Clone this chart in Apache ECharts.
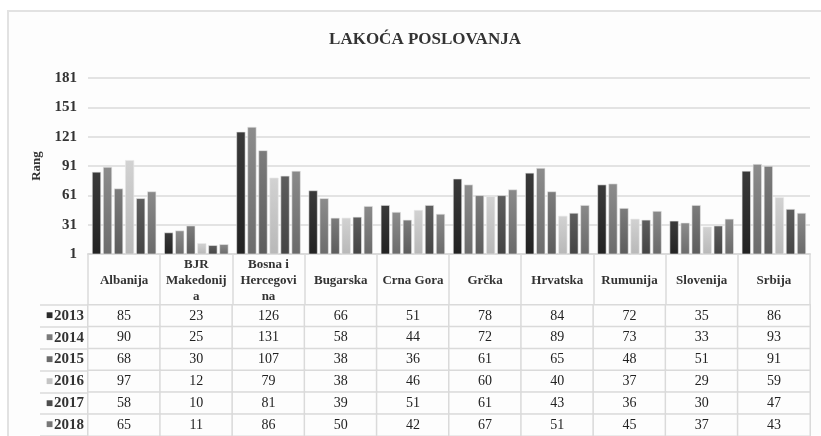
<!DOCTYPE html>
<html>
<head>
<meta charset="utf-8">
<script src="https://cdn.jsdelivr.net/npm/echarts@6/dist/echarts.min.js"></script>
<style>
html, body { margin: 0; padding: 0; background: #fff; }
#chart { width: 821px; height: 436px; }
</style>
</head>
<body>
<div id="chart"></div>
<script>
// podaci
const countries = ['Albanija', 'BJR Makedonija', 'Bosna i Hercegovina', 'Bugarska', 'Crna Gora',
                   'Grčka', 'Hrvatska', 'Rumunija', 'Slovenija', 'Srbija'];
// header text as wrapped in the table
const headerLabels = ['Albanija', 'BJR\nMakedonij\na', 'Bosna i\nHercegovi\nna', 'Bugarska', 'Crna Gora',
                      'Grčka', 'Hrvatska', 'Rumunija', 'Slovenija', 'Srbija'];
const years = ['2013', '2014', '2015', '2016', '2017', '2018'];
const rang2013 = [85, 23, 126, 66, 51, 78, 84, 72, 35, 86];
const rang2014 = [90, 25, 131, 58, 44, 72, 89, 73, 33, 93];
const rang2015 = [68, 30, 107, 38, 36, 61, 65, 48, 51, 91];
const rang2016 = [97, 12, 79, 38, 46, 60, 40, 37, 29, 59];
const rang2017 = [58, 10, 81, 39, 51, 61, 43, 36, 30, 47];
const rang2018 = [65, 11, 86, 50, 42, 67, 51, 45, 37, 43];
const yMin = 1, yMax = 181, yStep = 30;

const rows = [rang2013, rang2014, rang2015, rang2016, rang2017, rang2018];
const colors = [['#3a3a3a', '#222222'], ['#8c8c8c', '#6c6c6c'], ['#7c7c7c', '#5c5c5c'],
                ['#d2d2d2', '#b8b8b8'], ['#5e5e5e', '#444444'], ['#8a8a8a', '#6a6a6a']];
const swatch = ['#2a2a2a', '#7a7a7a', '#6a6a6a', '#c4c4c4', '#4e4e4e', '#777777'];
const font = 'Liberation Serif';
const lineCol = '#dadada';

let chartObj = echarts.init(document.getElementById('chart'));

// table cells
let cells = [];
rows.forEach((r, yi) => r.forEach((v, xi) => cells.push([xi, yi, v])));

let rich = { y: { fontFamily: font, fontWeight: 'bold', fontSize: 15, color: '#333' } };
swatch.forEach((c, i) => { rich['q' + i] = { color: c, fontSize: 12, padding: [0, 1, 0, 0] }; });

let series = rows.map((r, i) => ({
    name: years[i],
    type: 'bar',
    data: r,
    barGap: '22%',
    barCategoryGap: '11%',
    itemStyle: {
        color: new echarts.graphic.LinearGradient(0, 0, 0, 1, [
            { offset: 0, color: colors[i][0] },
            { offset: 1, color: colors[i][1] }
        ]),
        borderColor: '#e8e8e8',
        borderWidth: 0.6
    },
    emphasis: { disabled: true }
}));

series.push({
    type: 'heatmap',
    xAxisIndex: 1,
    yAxisIndex: 1,
    data: cells,
    itemStyle: { color: '#fdfdfd', borderColor: lineCol, borderWidth: 1.5 },
    label: {
        show: true,
        fontFamily: font,
        fontSize: 14,
        color: '#222',
        formatter: p => p.value[2]
    },
    emphasis: { disabled: true }
});

let options = {
    animation: false,
    backgroundColor: '#fff',
    graphic: [{
        type: 'rect',
        z: -10,
        shape: { x: 8, y: 11, width: 830, height: 440 },
        style: { fill: '#fdfdfd', stroke: '#e2e2e2', lineWidth: 2 }
    }],
    title: {
        text: 'LAKOĆA POSLOVANJA',
        left: 420,
        textAlign: 'center',
        top: 26,
        textStyle: { fontFamily: font, fontWeight: 'bold', fontSize: 17, color: '#333' }
    },
    grid: [
        { left: 88, right: 11, top: 78, bottom: 182 },
        { left: 88, right: 11, top: 305, height: 131 }
    ],
    xAxis: [{
        type: 'category',
        gridIndex: 0,
        data: countries,
        axisLine: { lineStyle: { color: lineCol, width: 2 } },
        axisTick: { show: true, length: 51, interval: 0, lineStyle: { color: lineCol, width: 1.5 } },
        axisLabel: {
            interval: 0,
            margin: 3,
            lineHeight: 16,
            fontFamily: font,
            fontWeight: 'bold',
            fontSize: 13,
            color: '#333',
            formatter: (v, i) => headerLabels[i].indexOf('\n') < 0 ? '\n' + headerLabels[i] : headerLabels[i]
        }
    }, {
        type: 'category',
        gridIndex: 1,
        data: countries,
        show: false
    }],
    yAxis: [{
        type: 'value',
        gridIndex: 0,
        min: yMin,
        max: yMax,
        interval: yStep,
        name: 'Rang',
        nameLocation: 'middle',
        nameGap: 43,
        nameTextStyle: { fontFamily: font, fontWeight: 'bold', fontSize: 13, color: '#333' },
        axisLine: { show: false },
        axisTick: { show: false },
        axisLabel: { fontFamily: font, fontWeight: 'bold', fontSize: 15, color: '#333', margin: 11 },
        splitLine: { lineStyle: { color: lineCol, width: 1.5 } }
    }, {
        type: 'category',
        gridIndex: 1,
        data: years,
        inverse: true,
        axisLine: { lineStyle: { color: lineCol, width: 1.5 } },
        axisTick: { show: true, length: 48, interval: 0, lineStyle: { color: lineCol, width: 1.5 } },
        axisLabel: {
            margin: 4,
            formatter: (v, i) => '{q' + i + '|■}{y|' + v + '}',
            rich: rich
        }
    }, {
        type: 'category',
        gridIndex: 1,
        data: years,
        inverse: true,
        offset: 48,
        axisLine: { lineStyle: { color: lineCol, width: 1.5 } },
        axisTick: { show: false },
        axisLabel: { show: false }
    }],
    series: series
};
chartObj.setOption(options);
</script>
</body>
</html>
